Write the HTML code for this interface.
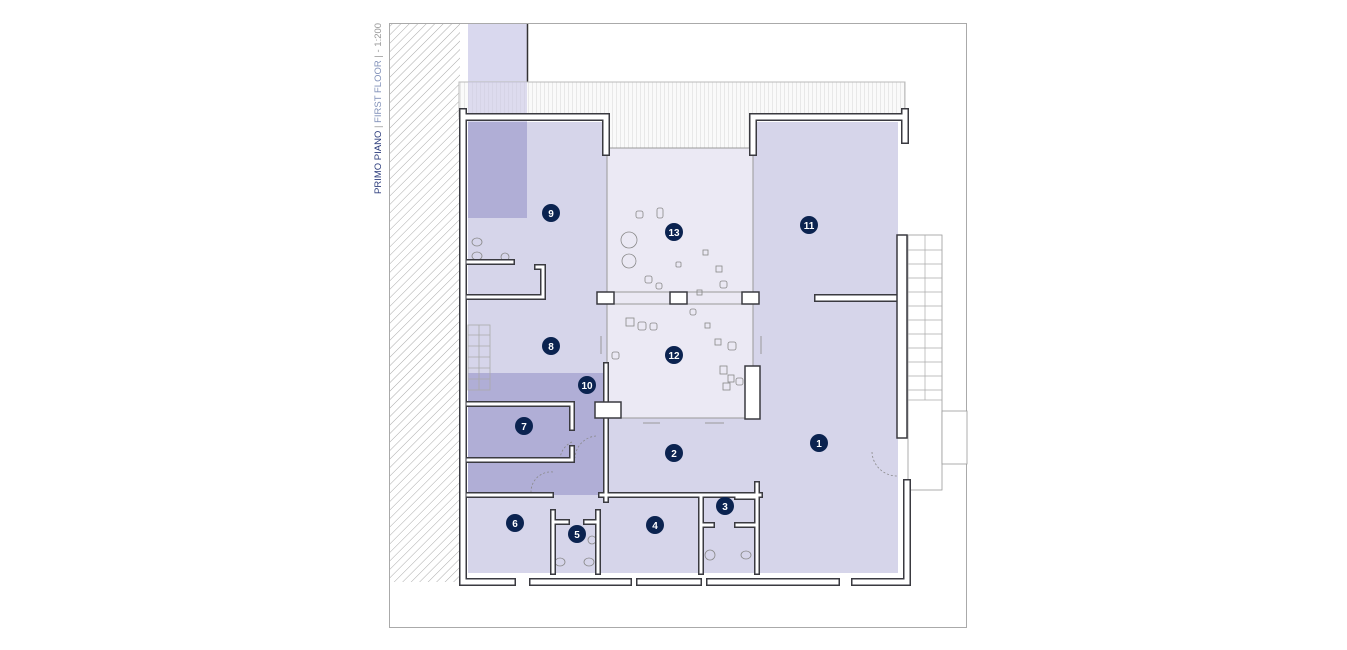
<!DOCTYPE html>
<html><head><meta charset="utf-8"><style>
html,body{margin:0;padding:0;background:#fff;width:1347px;height:650px;overflow:hidden}
svg{display:block}
</style></head><body>
<svg width="1347" height="650" viewBox="0 0 1347 650" xmlns="http://www.w3.org/2000/svg" font-family="Liberation Sans, sans-serif">
<defs>
<pattern id="h" width="6" height="6" patternUnits="userSpaceOnUse" patternTransform="rotate(45)">
<rect width="6" height="6" fill="#fff"/><line x1="0" y1="0" x2="0" y2="6" stroke="#aaa" stroke-width="1"/></pattern>
<pattern id="v" width="4" height="4" patternUnits="userSpaceOnUse">
<rect width="4" height="4" fill="#fafafa"/><line x1="0" y1="0" x2="0" y2="4" stroke="#ccc" stroke-width="0.8"/></pattern>
</defs>
<rect x="389.5" y="23.5" width="577" height="604" fill="#fff" stroke="#aaa"/>
<rect x="390" y="24" width="70" height="558" fill="url(#h)"/>
<rect x="468" y="24" width="59" height="98" fill="#d9d8ee"/>
<line x1="527.5" y1="24" x2="527.5" y2="82" stroke="#333" stroke-width="1.5"/>
<rect x="459" y="82" width="446" height="35" fill="url(#v)" stroke="#bbb"/>
<rect x="468" y="82" width="59" height="35" fill="#c9c7e6" opacity="0.6"/>
<rect x="468" y="122" width="430" height="451" fill="#d6d5ea"/>
<rect x="607" y="112" width="146" height="36" fill="url(#v)"/>
<rect x="607" y="148" width="146" height="270" fill="#ebe9f4"/>
<rect x="468" y="122" width="59" height="96" fill="#b0aed6"/>
<rect x="468" y="373" width="139" height="122" fill="#b0aed6"/>
<g stroke="#aaa" stroke-width="0.8" fill="none">
<rect x="468" y="325" width="22" height="65"/>
<line x1="479" y1="325" x2="479" y2="390"/>
<line x1="468" y1="335" x2="490" y2="335"/><line x1="468" y1="346" x2="490" y2="346"/><line x1="468" y1="357" x2="490" y2="357"/><line x1="468" y1="368" x2="490" y2="368"/><line x1="468" y1="379" x2="490" y2="379"/>
</g>
<g stroke="#999" stroke-width="0.8" fill="#fff">
<rect x="908" y="235" width="34" height="255"/>
<rect x="942" y="411" width="25" height="53"/>
</g>
<g stroke="#aaa" stroke-width="0.7">
<line x1="925" y1="235" x2="925" y2="400"/>
<line x1="908" y1="250" x2="942" y2="250"/><line x1="908" y1="264" x2="942" y2="264"/><line x1="908" y1="278" x2="942" y2="278"/><line x1="908" y1="292" x2="942" y2="292"/><line x1="908" y1="306" x2="942" y2="306"/><line x1="908" y1="320" x2="942" y2="320"/><line x1="908" y1="334" x2="942" y2="334"/><line x1="908" y1="348" x2="942" y2="348"/><line x1="908" y1="362" x2="942" y2="362"/><line x1="908" y1="376" x2="942" y2="376"/><line x1="908" y1="390" x2="942" y2="390"/><line x1="908" y1="400" x2="942" y2="400"/>
</g>
<g stroke="#999" stroke-width="1" fill="none">
<line x1="607" y1="148" x2="607" y2="418"/><line x1="753" y1="148" x2="753" y2="418"/>
<line x1="607" y1="148" x2="753" y2="148"/><line x1="607" y1="418" x2="753" y2="418"/>
<line x1="607" y1="292" x2="753" y2="292"/><line x1="607" y1="304" x2="753" y2="304"/>
<line x1="705" y1="423" x2="724" y2="423"/><line x1="643" y1="423" x2="660" y2="423"/>
<line x1="601" y1="336" x2="601" y2="354"/><line x1="761" y1="336" x2="761" y2="354"/>
</g>
<g stroke="#888" stroke-width="0.8" fill="none">
<circle cx="629" cy="240" r="8"/><circle cx="629" cy="261" r="7"/>
<rect x="636" y="211" width="7" height="7" rx="2"/><rect x="657" y="208" width="6" height="10" rx="2"/>
<rect x="645" y="276" width="7" height="7" rx="2"/><rect x="656" y="283" width="6" height="6" rx="2"/><rect x="676" y="262" width="5" height="5" rx="1"/>
<rect x="703" y="250" width="5" height="5"/><rect x="716" y="266" width="6" height="6"/><rect x="720" y="281" width="7" height="7" rx="2"/><rect x="697" y="290" width="5" height="5"/>
<rect x="612" y="352" width="7" height="7" rx="2"/><rect x="626" y="318" width="8" height="8"/><rect x="638" y="322" width="8" height="8" rx="2"/><rect x="650" y="323" width="7" height="7" rx="2"/><rect x="690" y="309" width="6" height="6" rx="2"/><rect x="705" y="323" width="5" height="5"/><rect x="715" y="339" width="6" height="6"/><rect x="728" y="342" width="8" height="8" rx="2"/><rect x="720" y="366" width="7" height="8"/><rect x="728" y="375" width="6" height="7"/><rect x="723" y="383" width="7" height="7"/><rect x="736" y="378" width="7" height="7" rx="2"/>
<ellipse cx="477" cy="242" rx="5" ry="4"/><ellipse cx="477" cy="256" rx="5" ry="4"/><circle cx="505" cy="257" r="4"/>
<ellipse cx="560" cy="562" rx="5" ry="4"/><ellipse cx="589" cy="562" rx="5" ry="4"/><circle cx="592" cy="540" r="4"/>
<circle cx="710" cy="555" r="5"/><ellipse cx="746" cy="555" rx="5" ry="4"/>
<path d="M596 436 A 23 23 0 0 0 575 458" stroke-dasharray="2 2"/><path d="M553 472 A 20 20 0 0 0 531 492" stroke-dasharray="2 2"/><path d="M872 452 A 25 25 0 0 0 897 476" stroke-dasharray="2 2"/><path d="M572 442 A 20 20 0 0 0 560 460" stroke-dasharray="2 2"/>
</g>
<g fill="none" stroke-linejoin="miter" stroke-linecap="square">
<g stroke="#3a3a40" stroke-width="8">
<path d="M463 112 V582 H512 M533 582 H628 M640 582 H698 M710 582 H836 M855 582 H907 V483 M905 112 V140 M463 117 H606 V152 M753 152 V117 H905"/>
<path d="M818 298 H895"/>
</g>
<g stroke="#3a3a40" stroke-width="6">
<path d="M468 262 H512 M537 267 H543 V297 H468"/>
<path d="M606 365 V500"/>
<path d="M468 404 H572 V428 M572 448 V460 H468"/>
<path d="M468 495 H551 M601 495 H760 M757 484 V572"/>
<path d="M553 512 V572 M598 512 V572 M553 522 H567 M586 522 H598"/>
<path d="M701 497 V572 M701 525 H712 M737 525 H757 M737 497 H757"/>
</g>
<g stroke="#fff" stroke-width="5">
<path d="M463 112 V582 H512 M533 582 H628 M640 582 H698 M710 582 H836 M855 582 H907 V483 M905 112 V140 M463 117 H606 V152 M753 152 V117 H905"/>
<path d="M818 298 H895"/>
</g>
<g stroke="#fff" stroke-width="3">
<path d="M468 262 H512 M537 267 H543 V297 H468"/>
<path d="M606 365 V500"/>
<path d="M468 404 H572 V428 M572 448 V460 H468"/>
<path d="M468 495 H551 M601 495 H760 M757 484 V572"/>
<path d="M553 512 V572 M598 512 V572 M553 522 H567 M586 522 H598"/>
<path d="M701 497 V572 M701 525 H712 M737 525 H757 M737 497 H757"/>
</g>
</g>
<g fill="#fff" stroke="#3a3a40" stroke-width="1.5">
<rect x="597" y="292" width="17" height="12"/><rect x="670" y="292" width="17" height="12"/><rect x="742" y="292" width="17" height="12"/>
<rect x="595" y="402" width="26" height="16"/><rect x="745" y="366" width="15" height="53"/>
<rect x="897" y="235" width="10" height="203"/>
</g>
<g fill="#0b2350">
<circle cx="551" cy="213" r="9"/><circle cx="674" cy="232" r="9"/><circle cx="809" cy="225" r="9"/>
<circle cx="551" cy="346" r="9"/><circle cx="674" cy="355" r="9"/><circle cx="587" cy="385" r="9"/>
<circle cx="524" cy="426" r="9"/><circle cx="674" cy="453" r="9"/><circle cx="819" cy="443" r="9"/>
<circle cx="725" cy="506" r="9"/><circle cx="515" cy="523" r="9"/><circle cx="577" cy="534" r="9"/><circle cx="655" cy="525" r="9"/>
</g>
<g fill="#fff" font-size="10" font-weight="bold" text-anchor="middle">
<text x="551" y="217">9</text><text x="674" y="236">13</text><text x="809" y="229">11</text>
<text x="551" y="350">8</text><text x="674" y="359">12</text><text x="587" y="389">10</text>
<text x="524" y="430">7</text><text x="674" y="457">2</text><text x="819" y="447">1</text>
<text x="725" y="510">3</text><text x="515" y="527">6</text><text x="577" y="538">5</text><text x="655" y="529">4</text>
</g>
<text transform="translate(381,194) rotate(-90)" font-size="9.5" fill="#4a5a8a"><tspan fill="#2c3c7c">PRIMO PIANO</tspan><tspan fill="#999"> | </tspan><tspan fill="#8090b8">FIRST FLOOR</tspan><tspan fill="#999"> | - 1:200</tspan></text>
</svg>
</body></html>
